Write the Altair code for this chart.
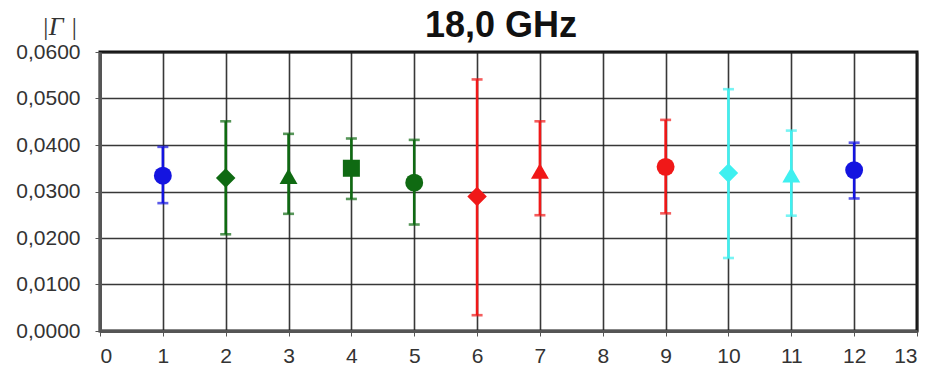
import altair as alt
import pandas as pd

xs = [1, 2, 3, 4, 5, 6, 7, 9, 10, 11, 12]
vals = [0.0334, 0.0329, 0.0333, 0.0350, 0.0319, 0.0289, 0.0344, 0.0353, 0.0340, 0.0336, 0.0346]
lows = [0.0275, 0.0208, 0.0252, 0.0284, 0.0229, 0.0034, 0.0249, 0.0253, 0.0157, 0.0248, 0.0285]
highs = [0.0396, 0.0451, 0.0424, 0.0414, 0.0411, 0.0541, 0.0451, 0.0454, 0.0520, 0.0431, 0.0405]
colors = ["#1414e0", "#0f6a12", "#0f6a12", "#0f6a12", "#0f6a12", "#f01818", "#f01818",
          "#f01818", "#3ff0f0", "#3ff0f0", "#1414e0"]
shapes = ["circle", "diamond", "triangle-up", "square", "circle", "diamond", "triangle-up",
          "circle", "diamond", "triangle-up", "circle"]
sizes = [320, 380, 320, 290, 320, 380, 320, 320, 380, 320, 320]
title_text = "18,0 GHz"

df = pd.DataFrame({"x": xs, "v": vals, "lo": lows, "hi": highs,
                   "c": colors, "s": shapes, "sz": sizes})

xscale = alt.Scale(domain=[0, 13], nice=False)
yscale = alt.Scale(domain=[0, 0.06], nice=False)

xaxis = alt.Axis(values=list(range(14)), format="d", title=None, labelFontSize=21,
                 labelColor="#333", labelPadding=9, tickSize=5, tickColor="#555",
                 gridColor="#222", gridWidth=1.6, gridOpacity=0.9, domainColor="#555",
                 domainWidth=3)
yaxis = alt.Axis(values=[0, 0.01, 0.02, 0.03, 0.04, 0.05, 0.06],
                 labelExpr="replace(format(datum.value, '.4f'), '.', ',')",
                 title="|Γ |", titleAngle=0, titleFont="Liberation Serif", titleFontStyle="italic",
                 titleFontWeight="normal", titleFontSize=26, titleColor="#333",
                 titleX=-41, titleY=-18, titleAlign="center", titleBaseline="alphabetic",
                 labelFontSize=21, labelColor="#333", labelPadding=15, tickSize=5,
                 tickColor="#555", gridColor="#222", gridWidth=1.6, gridOpacity=0.9,
                 domainColor="#555", domainWidth=3)

base = alt.Chart(df)

rules = base.mark_rule(strokeWidth=2.6).encode(
    x=alt.X("x:Q", scale=xscale, axis=xaxis),
    y=alt.Y("lo:Q", scale=yscale, axis=yaxis),
    y2="hi:Q",
    color=alt.Color("c:N", scale=None),
)
caps_hi = base.mark_tick(orient="horizontal", size=11, thickness=2.6).encode(
    x=alt.X("x:Q", scale=xscale), y=alt.Y("hi:Q", scale=yscale),
    color=alt.Color("c:N", scale=None))
caps_lo = base.mark_tick(orient="horizontal", size=11, thickness=2.6).encode(
    x=alt.X("x:Q", scale=xscale), y=alt.Y("lo:Q", scale=yscale),
    color=alt.Color("c:N", scale=None))
pts = base.mark_point(filled=True, opacity=1).encode(
    x=alt.X("x:Q", scale=xscale), y=alt.Y("v:Q", scale=yscale),
    color=alt.Color("c:N", scale=None),
    shape=alt.Shape("s:N", scale=None),
    size=alt.Size("sz:Q", scale=None),
)
title = alt.Chart(pd.DataFrame({"t": [title_text]})).mark_text(
    fontSize=36, fontWeight="bold", font="Liberation Sans", color="#111",
    align="center", baseline="alphabetic").encode(
    text="t:N", x=alt.value(401), y=alt.value(-15))

chart = alt.layer(rules, caps_hi, caps_lo, pts, title).properties(
    width=817, height=279,
    autosize=alt.AutoSizeParams(type="none"),
    padding={"left": 92, "top": 44, "right": 7, "bottom": 37},
).configure(font="Liberation Sans").configure_view(stroke="#111", strokeWidth=3)

chart.save("out.html", embed_options={"renderer": "svg", "actions": False})
